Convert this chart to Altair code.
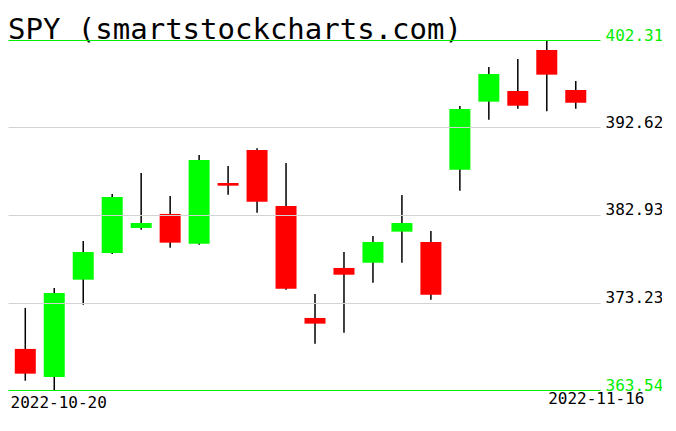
import altair as alt
import pandas as pd

dates = ["2022-10-20", "2022-10-21", "2022-10-24", "2022-10-25", "2022-10-26",
         "2022-10-27", "2022-10-28", "2022-10-31", "2022-11-01", "2022-11-02",
         "2022-11-03", "2022-11-04", "2022-11-07", "2022-11-08", "2022-11-09",
         "2022-11-10", "2022-11-11", "2022-11-14", "2022-11-15", "2022-11-16"]
opens = [368.09, 364.98, 375.76, 378.72, 381.49, 383.04, 379.75, 386.47, 390.13, 383.92,
         371.52, 377.06, 377.64, 381.08, 379.94, 387.94, 395.48, 396.66, 401.20, 396.77]
highs = [372.63, 374.84, 380.05, 385.25, 387.58, 385.03, 389.57, 388.35, 390.31, 388.69,
         374.18, 378.83, 380.60, 385.14, 381.15, 395.00, 399.32, 400.21, 402.31, 397.77]
lows = [364.57, 363.54, 372.99, 378.61, 381.30, 379.31, 379.64, 385.18, 383.18, 374.65,
        368.67, 369.89, 375.43, 377.64, 373.55, 385.62, 393.48, 394.70, 394.41, 394.70]
closes = [365.35, 374.29, 378.83, 384.92, 382.04, 379.86, 389.02, 386.17, 384.40, 374.76,
          370.89, 376.31, 379.94, 382.04, 374.10, 394.67, 398.54, 395.03, 398.47, 395.36]
price_ticks = [363.54, 373.23, 382.93, 392.62, 402.31]

df = pd.DataFrame({
    "i": list(range(len(dates))),
    "date": dates,
    "open": opens,
    "high": highs,
    "low": lows,
    "close": closes,
})

x_lo, x_hi = -0.424, 19.664
FONT = "DejaVu Sans Mono"

x_enc = alt.X(
    "i:Q",
    scale=alt.Scale(domain=[x_lo, x_hi], nice=False, zero=False),
    axis=alt.Axis(
        title=None, values=[x_lo, x_hi], grid=False, domain=False, ticks=False,
        labelExpr=f"datum.value < 5 ? '{dates[0]}' : '{dates[-1]}'",
        labelFont=FONT, labelFontSize=16, labelColor="black",
        labelBaseline="top", labelFlush=False, labelOverlap=False,
        labelAlign=alt.condition("datum.value < 5", alt.value("left"), alt.value("right")),
        labelOffset=alt.condition("datum.value < 5", alt.value(-3), alt.value(49)),
        labelPadding=alt.condition("datum.value < 5", alt.value(4), alt.value(0)),
    ),
)

y_scale = alt.Scale(domain=[price_ticks[0], price_ticks[-1]], nice=False, zero=False)
edge_test = f"datum.value < {price_ticks[0] + 1} || datum.value > {price_ticks[-1] - 1}"
y_axis = alt.Axis(
    title=None, orient="right", values=price_ticks, format=".2f",
    grid=True, domain=False, ticks=False, zindex=1,
    gridColor=alt.condition(edge_test, alt.value("#00ee00"), alt.value("#d3d3d3")),
    gridWidth=1,
    labelFont=FONT, labelFontSize=16, labelAlign="left", labelBaseline="alphabetic",
    labelPadding=5, labelFlush=False, labelOverlap=False,
    labelColor=alt.condition(edge_test, alt.value("#00ee00"), alt.value("black")),
)

base = alt.Chart(df)

wicks = base.mark_rule(color="black", strokeWidth=1.5).encode(
    x=x_enc,
    y=alt.Y("low:Q", scale=y_scale, axis=y_axis),
    y2="high:Q",
)

bodies = base.mark_bar(width=21).encode(
    x=alt.X("i:Q"),
    y=alt.Y("open:Q"),
    y2="close:Q",
    color=alt.condition("datum.close > datum.open", alt.value("#00ff00"), alt.value("#ff0000")),
)

chart = alt.layer(wicks, bodies).properties(
    width=592,
    height=350,
    padding={"left": 0, "top": 32, "right": 62, "bottom": 30},
    autosize=alt.AutoSizeParams(type="none"),
    background="white",
    title=alt.TitleParams(
        text="SPY (smartstockcharts.com)", anchor="start", frame="group",
        font=FONT, fontSize=29, fontWeight="normal", color="black",
        baseline="alphabetic", offset=0, dy=41,
    ),
).configure_view(stroke=None)

chart.save("out.html", embed_options={"renderer": "svg", "actions": False})
